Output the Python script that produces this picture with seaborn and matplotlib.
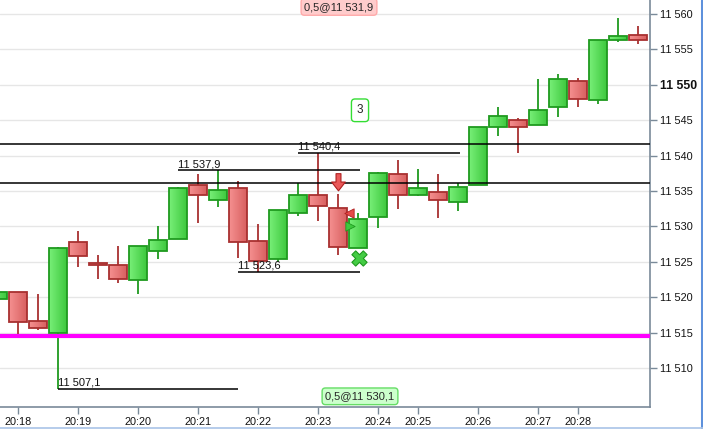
import numpy as np
import pandas as pd
import matplotlib
matplotlib.use("Agg")
import matplotlib.pyplot as plt
import seaborn as sns
from matplotlib.patches import Rectangle
from matplotlib.path import Path
from matplotlib.lines import Line2D
from matplotlib.colors import LinearSegmentedColormap

# ---------------- data ----------------
bar_index = list(range(33))
opens = [11519.8, 11520.8, 11516.6, 11514.9, 11527.8, 11524.9, 11524.5, 11522.4, 11526.5, 11528.2,
         11535.9, 11533.8, 11535.4, 11527.9, 11525.4, 11531.9, 11534.4, 11532.6, 11526.9, 11531.3,
         11537.4, 11534.5, 11534.9, 11533.5, 11535.8, 11544.0, 11545.0, 11544.3, 11546.8, 11550.5,
         11547.8, 11556.3, 11557.0]
highs = [11520.8, 11520.8, 11520.5, 11527.1, 11529.4, 11526.0, 11527.2, 11527.3, 11530.1, 11535.5,
         11537.4, 11537.9, 11536.4, 11530.3, 11532.3, 11536.2, 11540.4, 11534.6, 11531.9, 11537.7,
         11539.4, 11538.1, 11537.4, 11536.2, 11544.0, 11546.9, 11545.3, 11550.8, 11551.5, 11551.0,
         11556.3, 11559.4, 11558.3]
lows = [11519.8, 11514.7, 11515.3, 11507.1, 11524.3, 11522.5, 11522.0, 11520.4, 11525.4, 11528.2,
        11530.5, 11532.8, 11525.5, 11523.6, 11525.0, 11531.5, 11530.8, 11526.0, 11526.9, 11529.8,
        11532.5, 11534.3, 11531.2, 11532.2, 11535.8, 11542.8, 11540.4, 11544.3, 11545.5, 11546.9,
        11547.3, 11556.0, 11555.7]
closes = [11520.8, 11516.5, 11515.6, 11527.0, 11525.8, 11524.5, 11522.5, 11527.3, 11528.1, 11535.4,
          11534.5, 11535.1, 11527.8, 11525.1, 11532.3, 11534.4, 11532.9, 11527.1, 11531.0, 11537.5,
          11534.5, 11535.4, 11533.8, 11535.5, 11544.0, 11545.6, 11544.0, 11546.5, 11550.8, 11548.0,
          11556.3, 11556.9, 11556.4]

time_tick_pos = [1, 4, 7, 10, 13, 16, 19, 21, 24, 27, 29]
time_tick_labels = ["20:18", "20:19", "20:20", "20:21", "20:22", "20:23",
                    "20:24", "20:25", "20:26", "20:27", "20:28"]

price_ticks = [11510, 11515, 11520, 11525, 11530, 11535, 11540, 11545, 11550, 11555, 11560]

# full-width horizontal levels
level_lines = [11541.6, 11536.2]
magenta_level = 11514.5

# short annotated levels: price, start bar, end bar, label
ann_prices = [11507.1, 11537.9, 11540.4, 11523.6]
ann_start = [3, 9, 15, 12]
ann_end = [12, 18.1, 23.1, 18.1]
ann_labels = ["11 507,1", "11 537,9", "11 540,4", "11 523,6"]

# trade info
sell_label = "0,5@11 531,9"
buy_label = "0,5@11 530,1"
sell_bar, sell_price = 17, 11531.9
buy_bar, buy_price = 18, 11530.1
count_label = "3"

# ---------------- figure ----------------
sns.set_theme(style="white")
plt.rcParams["font.family"] = ["Liberation Sans", "DejaVu Sans"]

W, H = 703, 429
fig = plt.figure(figsize=(W / 100, H / 100), dpi=100)
ax = fig.add_axes([0, (H - 407) / H, 650 / W, 407 / H])

df = pd.DataFrame({"i": bar_index, "o": opens, "h": highs, "l": lows, "c": closes})
df["up"] = df["c"] >= df["o"]

green_edge = "#1f9a1f"
red_edge = "#a83030"
green_cmap = LinearSegmentedColormap.from_list("g", ["#78ef78", "#3ec83e"])
red_cmap = LinearSegmentedColormap.from_list("r", ["#f59090", "#d86060"])
grad = np.linspace(0, 1, 50).reshape(1, -1)

# grid
for p in price_ticks:
    ax.axhline(p, color="#e6e6e6", lw=1, zorder=0)

bw = 0.9
for _, r in df.iterrows():
    col = green_edge if r.up else red_edge
    top, bot = max(r.o, r.c), min(r.o, r.c)
    ax.vlines(r.i, r.l, bot, color=col, lw=1.3, zorder=2)
    ax.vlines(r.i, top, r.h, color=col, lw=1.3, zorder=2)
    rect = Rectangle((r.i - bw / 2, bot), bw, max(top - bot, 0.05), fc="none",
                     ec=col, lw=1.3, zorder=4)
    ax.add_patch(rect)
    im = ax.imshow(grad, extent=[r.i - bw / 2, r.i + bw / 2, bot, bot + max(top - bot, 0.05)],
                   aspect="auto", cmap=green_cmap if r.up else red_cmap, zorder=3,
                   interpolation="bilinear")
    im.set_clip_path(rect)

# levels
for lv in level_lines:
    ax.axhline(lv, color="black", lw=1.1, zorder=5)
ax.axhline(magenta_level, color="#ff00ff", lw=3, zorder=5)

for p, s, e, lab in zip(ann_prices, ann_start, ann_end, ann_labels):
    ax.hlines(p, s, e, color="black", lw=1.1, zorder=5)
    ax.text(s, p + 0.15, lab, fontsize=8, ha="left", va="bottom", color="#111111", zorder=6)

# trade markers
arrow = Path([(-0.25, 1.0), (0.25, 1.0), (0.25, 0.15), (0.7, 0.15), (0.0, -0.75),
              (-0.7, 0.15), (-0.25, 0.15), (-0.25, 1.0)],
             [Path.MOVETO] + [Path.LINETO] * 6 + [Path.CLOSEPOLY])
mk = pd.DataFrame({"x": [sell_bar], "y": [11536.2]})
sns.scatterplot(data=mk, x="x", y="y", marker=arrow, s=200, color="#ea5a5a",
                edgecolor="#b02020", linewidth=0.8, ax=ax, zorder=7, legend=False)
sns.scatterplot(x=[sell_bar + 0.55], y=[sell_price], marker="<", s=45, color="#e64a4a",
                edgecolor="#b02020", linewidth=0.6, ax=ax, zorder=7, legend=False)
sns.scatterplot(x=[sell_bar + 0.58], y=[buy_price - 0.1], marker=">", s=45, color="#3ec83e",
                edgecolor="#1f9a1f", linewidth=0.6, ax=ax, zorder=7, legend=False)
sns.scatterplot(x=[buy_bar + 0.05], y=[11525.5], marker="X", s=120, color="#44cc44",
                edgecolor="#1f9a1f", linewidth=0.8, ax=ax, zorder=7, legend=False)

# labels
ax.text(sell_bar + 0.05, 11561.0, sell_label, fontsize=8, ha="center", va="center",
        zorder=8, clip_on=False,
        bbox=dict(boxstyle="round,pad=0.3,rounding_size=0.3", fc="#ffcccc", ec="#ffaaaa", lw=1))
ax.text(buy_bar + 0.1, 11506.0, buy_label, fontsize=8, ha="center", va="center", zorder=8,
        bbox=dict(boxstyle="round,pad=0.3,rounding_size=0.3", fc="#ccffcc", ec="#66dd66", lw=1))
ax.text(buy_bar + 0.1, 11546.4, count_label, fontsize=8.5, ha="center", va="center", zorder=8,
        bbox=dict(boxstyle="round,pad=0.45,rounding_size=0.3", fc="white", ec="#33dd33", lw=1))

# axes
ax.set_xlim(0.1, 32.6)
ax.set_ylim(11504.49, 11561.98)
ax.set_xlabel("")
ax.set_ylabel("")
ax.yaxis.tick_right()
ax.set_yticks(price_ticks)
ax.set_yticklabels([f"{p:,}".replace(",", " ") for p in price_ticks])
for lab, p in zip(ax.get_yticklabels(), price_ticks):
    if p == 11550:
        lab.set_fontweight("bold")
        lab.set_fontsize(8.8)
    else:
        lab.set_fontsize(7.8)
    lab.set_color("#111111")
ax.set_xticks(time_tick_pos)
ax.set_xticklabels(time_tick_labels, fontsize=7.8, color="#111111")
ax.tick_params(axis="both", which="both", length=5, width=1, color="#7a8a99",
               direction="out", pad=2)
ax.tick_params(axis="x", bottom=True)
ax.tick_params(axis="y", right=True, left=False)
for side in ["left", "top"]:
    ax.spines[side].set_visible(False)
for side in ["right", "bottom"]:
    ax.spines[side].set_visible(True)
    ax.spines[side].set_color("#7a8a99")
    ax.spines[side].set_linewidth(1.2)

# window border
fig.add_artist(Line2D([701.8 / W, 701.8 / W], [0, 1], color="#5e91dc", lw=2.2,
                      transform=fig.transFigure))
fig.add_artist(Line2D([0, 1], [1.3 / H, 1.3 / H], color="#a9c4e8", lw=1.2,
                      transform=fig.transFigure))

fig.savefig("out.png", dpi=100)
